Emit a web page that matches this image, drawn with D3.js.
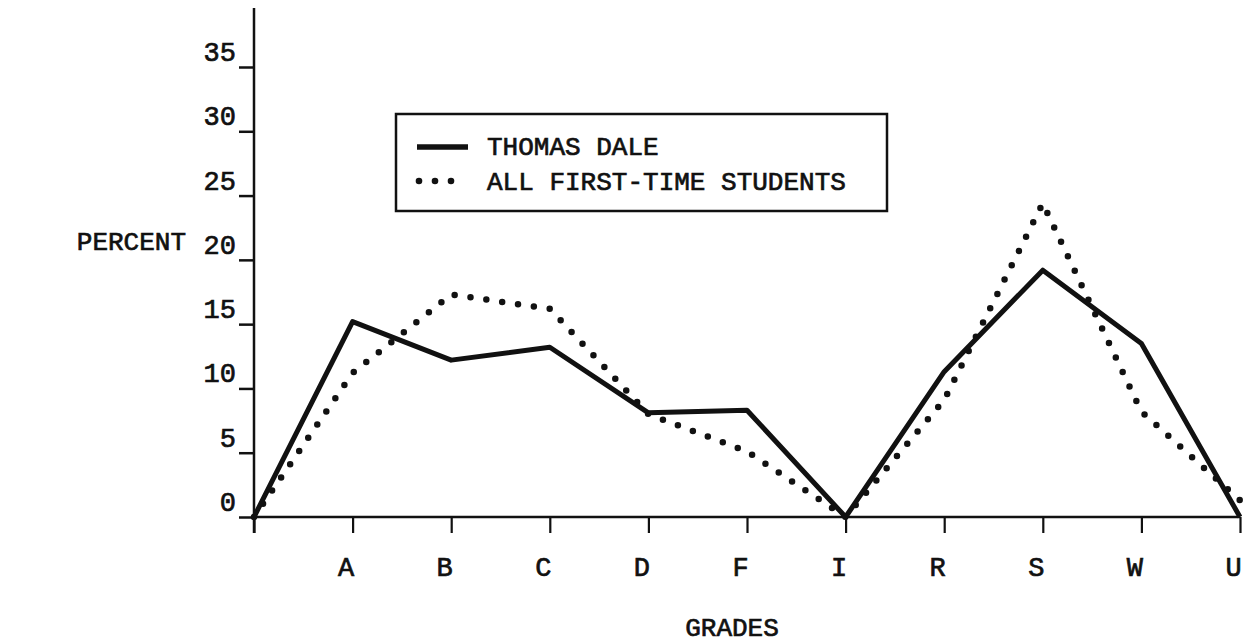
<!DOCTYPE html>
<html>
<head>
<meta charset="utf-8">
<script src="https://cdn.jsdelivr.net/npm/d3@7"></script>
<style>
  html, body { margin: 0; padding: 0; background: #fff; }
  svg { display: block; }
  text { font-family: "Liberation Mono", "Courier New", monospace; fill: #111; stroke: #111; stroke-width: 0.7px; }
</style>
</head>
<body>
<svg id="chart" width="1244" height="643"></svg>
<script>
// ---- data ----
const categories = ["", "A", "B", "C", "D", "F", "I", "R", "S", "W", "U"];
const thomasDale = [0, 15.2, 12.2, 13.2, 8.1, 8.3, 0, 11.3, 19.2, 13.5, 0];
const allFirstTime = [0, 11.2, 17.3, 16.2, 8.0, 5.1, 0, 9.1, 24.4, 8.2, 1.3];
const yTicks = [0, 5, 10, 15, 20, 25, 30, 35];
const seriesNames = ["THOMAS DALE", "ALL FIRST-TIME STUDENTS"];
const xTitle = "GRADES";
const yTitle = "PERCENT";

// ---- layout ----
const svg = d3.select("#chart");
const ink = "#111";
const x = d3.scalePoint().domain(categories).range([254, 1240]);
const y = d3.scaleLinear().domain([0, 35]).range([517, 67]);

// y axis
const yAxis = d3.axisLeft(y).tickValues(yTicks).tickSize(15).tickSizeOuter(0).tickPadding(3);
const gy = svg.append("g").attr("transform", `translate(${x("")},0)`).call(yAxis);
gy.select(".domain").remove();
gy.selectAll(".tick line").attr("stroke", ink).attr("stroke-width", 2.5);
gy.selectAll(".tick text")
  .attr("y", -16).attr("dy", "0.35em")
  .style("font-size", "27px").style("font-family", '"Liberation Mono", monospace');
svg.append("line")
  .attr("x1", x("")).attr("x2", x(""))
  .attr("y1", 8).attr("y2", y(0) + 16)
  .attr("stroke", ink).attr("stroke-width", 2.5);

// x axis
const xAxis = d3.axisBottom(x).tickSize(16).tickSizeOuter(0);
const gx = svg.append("g").attr("transform", `translate(0,${y(0)})`).call(xAxis);
gx.select(".domain").remove();
gx.selectAll(".tick line").attr("stroke", ink).attr("stroke-width", 2.2);
gx.selectAll(".tick text")
  .attr("y", 50).attr("x", -7).attr("dy", "0.35em")
  .style("font-size", "27px").style("font-family", '"Liberation Mono", monospace');
svg.append("line")
  .attr("x1", x("")).attr("x2", x("U"))
  .attr("y1", y(0)).attr("y2", y(0))
  .attr("stroke", ink).attr("stroke-width", 2.5);

// titles
svg.append("text").attr("x", 732).attr("y", 636)
  .attr("text-anchor", "middle").style("font-size", "26px").text(xTitle);
svg.append("text").attr("x", 186).attr("y", 241).attr("dy", "0.35em")
  .attr("text-anchor", "end").style("font-size", "26px").text(yTitle);

// lines
const line = d3.line().x((d, i) => x(categories[i])).y(d => y(d));
svg.append("path").datum(allFirstTime)
  .attr("d", line).attr("fill", "none").attr("stroke", ink)
  .attr("stroke-width", 6.5).attr("stroke-linecap", "round")
  .attr("stroke-dasharray", "0 16");
svg.append("path").datum(thomasDale)
  .attr("d", line).attr("fill", "none").attr("stroke", ink)
  .attr("stroke-width", 5).attr("stroke-linejoin", "round");

// legend
const lg = svg.append("g");
lg.append("rect").attr("x", 396).attr("y", 114).attr("width", 491).attr("height", 97)
  .attr("fill", "none").attr("stroke", ink).attr("stroke-width", 2.5);
lg.append("line").attr("x1", 417).attr("x2", 468).attr("y1", 147).attr("y2", 147)
  .attr("stroke", ink).attr("stroke-width", 5.5);
lg.selectAll("circle.ld").data([419, 435, 451]).enter().append("circle")
  .attr("cx", d => d).attr("cy", 181).attr("r", 3.3).attr("fill", ink);
lg.selectAll("text.lt").data(seriesNames).enter().append("text")
  .attr("x", 487).attr("y", (d, i) => 146 + i * 35).attr("dy", "0.35em")
  .style("font-size", "26px").text(d => d);
</script>
</body>
</html>
